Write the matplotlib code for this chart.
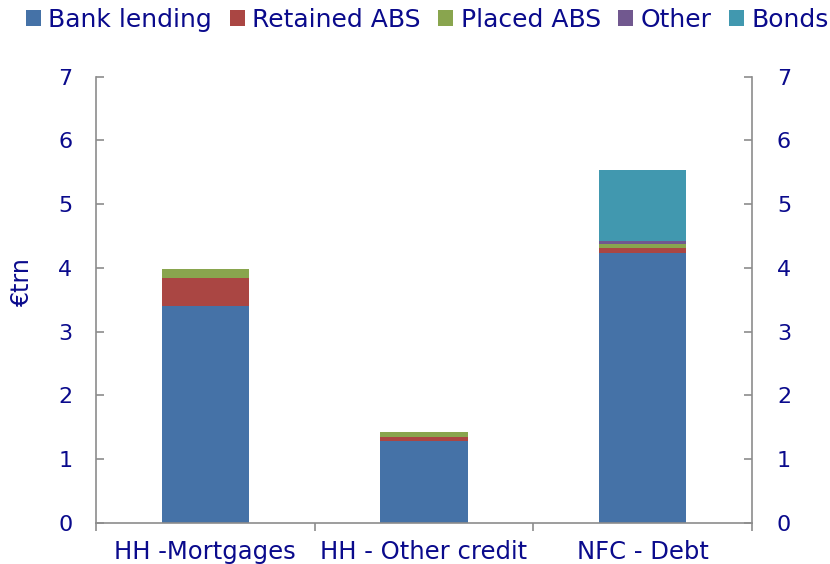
import numpy as np
import matplotlib.pyplot as plt

plt.rcParams['font.family'] = ['DejaVu Sans']

# ---- Data (EUR trillion) ----
categories = ['HH -Mortgages', 'HH - Other credit', 'NFC - Debt']
series_names = ['Bank lending', 'Retained ABS', 'Placed ABS', 'Other', 'Bonds']
bank_lending = [3.40, 1.28, 4.23]
retained_abs = [0.45, 0.07, 0.09]
placed_abs   = [0.14, 0.08, 0.05]
other        = [0.00, 0.00, 0.06]
bonds        = [0.00, 0.00, 1.11]

colors = ['#4572A7', '#AA4643', '#89A54E', '#71588F', '#4198AF']
txt = '#0a0a8c'
grey = '#8c8c8c'

fig = plt.figure(figsize=(8.3, 5.64), dpi=100)
ax = fig.add_axes([0.1157, 0.0727, 0.7903, 0.7913])

x = np.arange(len(categories))
bottom = np.zeros(len(categories))
for name, vals, c in zip(series_names,
                         [bank_lending, retained_abs, placed_abs, other, bonds],
                         colors):
    ax.bar(x, vals, width=0.4, bottom=bottom, color=c, label=name,
           edgecolor='none')
    bottom += np.array(vals)

ax.set_xlim(-0.5, 2.5)
ax.set_ylim(0, 7)
ax.set_yticks(range(0, 8))

# category boundaries as major ticks, labels on minor ticks
ax.set_xticks([-0.5, 0.5, 1.5, 2.5])
ax.set_xticklabels([])
ax.set_xticks(x, minor=True)
ax.set_xticklabels(categories, minor=True, fontsize=17.5, color=txt)
ax.tick_params(axis='x', which='major', direction='out', length=6,
               color=grey, width=1.2)
ax.tick_params(axis='x', which='minor', length=0, pad=12)
ax.tick_params(axis='y', direction='in', length=6, color=grey, width=1.2,
               labelsize=16, labelcolor=txt, pad=17)

for s in ['left', 'bottom']:
    ax.spines[s].set_color(grey)
    ax.spines[s].set_linewidth(1.2)
ax.spines['top'].set_visible(False)
ax.spines['right'].set_visible(False)

ax2 = ax.twinx()
ax2.set_ylim(0, 7)
ax2.set_yticks(range(0, 8))
ax2.tick_params(axis='y', direction='in', length=6, color=grey, width=1.2,
                labelsize=16, labelcolor=txt, pad=18)
ax2.spines['right'].set_color(grey)
ax2.spines['right'].set_linewidth(1.2)
for s in ['left', 'top', 'bottom']:
    ax2.spines[s].set_visible(False)

fig.text(0.027, 0.5, '€trn', rotation=90, ha='center', va='center',
         fontsize=17, color=txt)

handles, labels = ax.get_legend_handles_labels()
leg = fig.legend(handles, labels, loc='upper center', ncol=5,
                 bbox_to_anchor=(0.515, 1.012), frameon=False, fontsize=18,
                 handlelength=0.6, handleheight=0.6, handletextpad=0.3,
                 columnspacing=0.7, borderaxespad=0.2)
for t in leg.get_texts():
    t.set_color(txt)

fig.savefig('out.png', dpi=100)
